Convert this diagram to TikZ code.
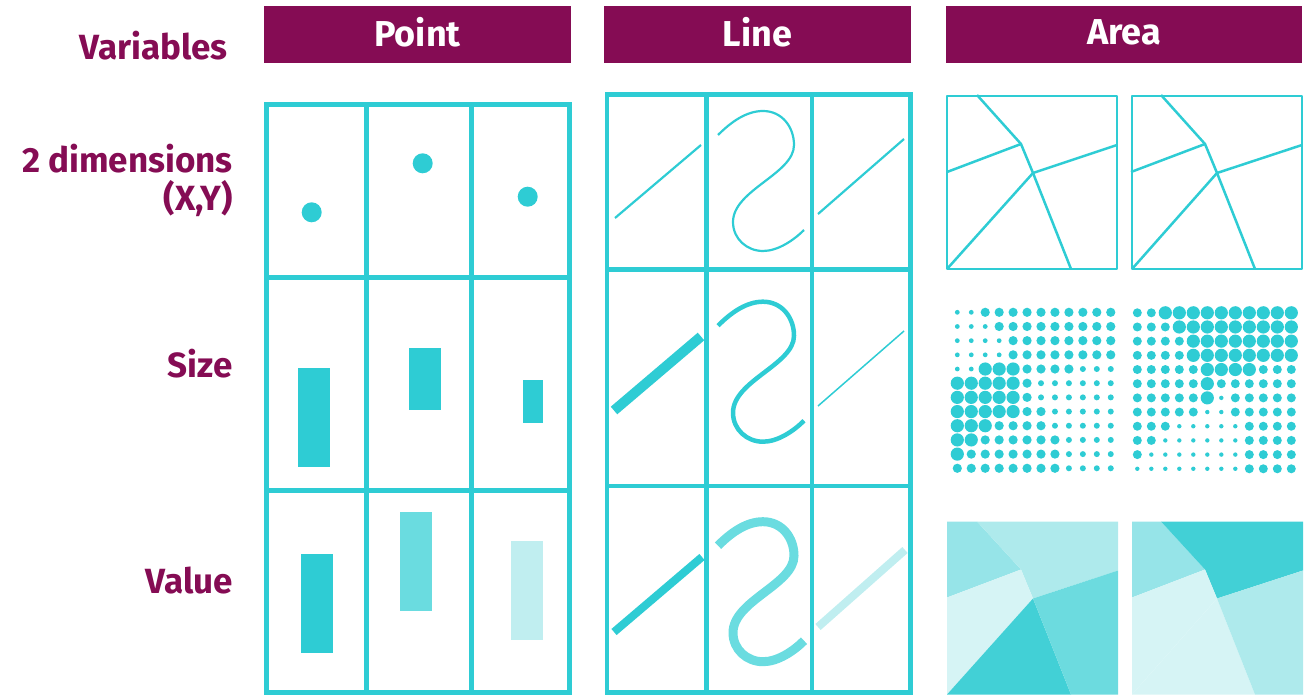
\documentclass[tikz,border=0pt]{standalone}
\usepackage{fontspec}
\setmainfont{Fira Sans}
\definecolor{maroon}{HTML}{850C54}
\definecolor{cy}{HTML}{2ECCD4}
\definecolor{cymid}{HTML}{6ADCE0}
\definecolor{cylight}{HTML}{C0EEF0}
\definecolor{aone}{HTML}{96E4E8}
\definecolor{atwo}{HTML}{AEEAEC}
\definecolor{athree}{HTML}{D6F4F5}
\definecolor{afour}{HTML}{42D0D6}
\definecolor{afive}{HTML}{6CDBDF}
\begin{document}
\begin{tikzpicture}[x=1pt,y=-1pt,
  hdr/.style={fill=maroon,text=white,font=\fontsize{36}{42}\selectfont\bfseries,minimum height=57pt,inner sep=0pt,text depth=5pt},
  lbl/.style={text=maroon,font=\fontsize{35}{42}\selectfont\bfseries,inner sep=0pt,anchor=base east},
  pgrid/.style={draw=cy,line width=5pt},
  lgrid/.style={draw=cy,line width=4.5pt},
  mapline/.style={draw=cy,line width=2.5pt,line join=round},
  sline/.style={draw=cy,line cap=butt}]
\useasboundingbox (0,0) rectangle (1308,695);

% labels
\node[lbl] (lvar) at (228,60) {Variables};
\node[lbl] (ldim) at (233,173) {2 dimensions};
\node[lbl] (lxy) at (233,210) {(X,Y)};
\node[lbl] (lsize) at (233,377) {Size};
\node[lbl] (lval) at (233,593) {Value};

% headers
\node[hdr,minimum width=307pt] (hpoint) at (417.5,34.5) {Point};
\node[hdr,minimum width=307pt] (hline) at (757.5,34.5) {Line};
\node[hdr,minimum width=356pt] (harea) at (1124,34.5) {Area};

% ---------- Point grid
\draw[pgrid] (266,105) rectangle (569.5,692.5);
\draw[pgrid] (366,105) -- (366,692.5) (471,105) -- (471,692.5)
             (266,277.5) -- (569.5,277.5) (266,490) -- (569.5,490);
\fill[cy] (311.7,212.3) circle[radius=10];
\fill[cy] (422.7,163.3) circle[radius=10];
\fill[cy] (527.7,196.7) circle[radius=10];
\fill[cy] (298,368) rectangle (330,467);
\fill[cy] (409,348) rectangle (441,410);
\fill[cy] (523,380) rectangle (543,423);
\fill[cy] (301,554) rectangle (333,653);
\fill[cymid] (400,512) rectangle (432,611);
\fill[cylight] (511,541) rectangle (543,640);

% ---------- Line grid
\draw[lgrid] (607,94.5) rectangle (910.5,692.5);
\draw[lgrid] (706.3,94.5) -- (706.3,692.5) (812,94.5) -- (812,692.5)
             (607,269.5) -- (910.5,269.5) (607,486) -- (910.5,486);
\def\spath{(718,135) .. controls (732,121) and (747,111) .. (763,111)
  .. controls (782,111) and (794,127) .. (794,145)
  .. controls (794,174) and (733,190) .. (733,222)
  .. controls (733,239) and (747,251) .. (763,251)
  .. controls (778,251) and (794,240) .. (804,230)}
% row 1
\draw[sline,line width=2.2pt] (615,218) -- (701,145);
\draw[sline,line width=2.2pt] \spath;
\draw[sline,line width=2.2pt] (818,214) -- (904,139);
% row 2
\draw[sline,line width=10pt] (614,410.5) -- (701,336.5);
\begin{scope}[yshift=-190.7pt]
\draw[sline,line width=4.5pt] \spath;
\end{scope}
\draw[sline,line width=1.5pt] (818,406) -- (904,331);
% row 3
\draw[sline,line width=8pt] (614,632) -- (702,557);
\begin{scope}[yshift=-410.7pt]
\draw[sline,draw=cymid,line width=9pt] \spath;
\end{scope}
\draw[sline,draw=cylight,line width=8pt] (818,627) -- (905,550);

% ---------- Area maps (top)
\begin{scope}[shift={(947,96)}]
\draw[mapline] (0,0) rectangle (170,173);
\draw[mapline] (30,-1) -- (74,48) -- (86,77) -- (124,173);
\draw[mapline] (0,76) -- (74,48);
\draw[mapline] (86,77) -- (170,49);
\draw[mapline] (86,77) -- (0,173);
\end{scope}
\begin{scope}[shift={(1132,96)}]
\draw[mapline] (0,0) rectangle (170,173);
\draw[mapline] (29,-1) -- (73,48) -- (85,77) -- (123,173);
\draw[mapline] (-1,76) -- (73,48);
\draw[mapline] (85,77) -- (170,49);
\draw[mapline] (85,77) -- (0,173);
\end{scope}

% ---------- Dot grids
\foreach \row [count=\r] in {
  {1,1,3,3,3,3,3,3,3,3,3,3},
  {1,1,1,3,3,3,3,3,3,3,3,3},
  {1,1,1,1,3,3,3,3,3,3,3,3},
  {1,1,1,1,3,3,3,3,3,3,3,3},
  {1,1,4,4,4,3,3,3,3,2,2,2},
  {4,4,4,4,4,3,2,2,2,2,2,2},
  {4,4,4,4,4,3,2,2,2,2,2,2},
  {4,4,4,4,4,3,3,2,2,2,2,2},
  {4,4,4,3,3,3,3,2,2,2,2,2},
  {4,4,3,3,3,3,3,3,2,2,2,2},
  {4,3,3,3,3,3,3,3,2,2,2,2},
  {3,3,3,3,3,3,3,3,2,2,2,2}}{
  \foreach \lv [count=\c] in \row {
    \pgfmathsetmacro\rad{{0,2.4,3.0,4.6,6.6}[\lv]}
    \fill[cy] (957.3+13.95*\c-13.95, 312.3+14.18*\r-14.18) circle[radius=\rad];
  }
}
\foreach \row [count=\r] in {
  {3,3,4,4,4,4,4,4,4,4,4,4},
  {3,3,3,4,4,4,4,4,4,4,4,4},
  {3,3,3,3,4,4,4,4,4,4,4,4},
  {3,3,3,3,4,4,4,4,4,4,4,4},
  {3,3,3,3,3,4,4,4,4,3,3,3},
  {3,3,3,3,3,4,3,3,3,3,3,3},
  {3,3,3,3,3,4,1,3,3,3,3,3},
  {3,3,3,3,3,1,1,3,3,3,3,3},
  {3,3,3,1,1,1,1,1,3,3,3,3},
  {3,3,1,1,1,1,1,1,3,3,3,3},
  {3,1,1,1,1,1,1,1,3,3,3,3},
  {1,1,1,1,1,1,1,1,3,3,3,3}}{
  \foreach \lv [count=\c] in \row {
    \pgfmathsetmacro\rad{{0,2.2,3.0,4.5,6.6}[\lv]}
    \fill[cy] (1137.3+14*\c-14, 312.8+14.18*\r-14.18) circle[radius=\rad];
  }
}

% ---------- Value maps
\begin{scope}[shift={(947,521.5)}]
\fill[aone] (0,0) -- (30,0) -- (74,48) -- (0,76) -- cycle;
\fill[atwo] (30,0) -- (171,0) -- (171,49) -- (86,77) -- (74,48) -- cycle;
\fill[athree] (0,76) -- (74,48) -- (86,77) -- (0,173) -- cycle;
\fill[afour] (0,173) -- (86,77) -- (124,173) -- cycle;
\fill[afive] (86,77) -- (171,49) -- (171,173) -- (124,173) -- cycle;
\end{scope}
\begin{scope}[shift={(1132,521.5)}]
\fill[aone] (0,0) -- (29,0) -- (73,48) -- (0,76) -- cycle;
\fill[afour] (29,0) -- (171,0) -- (171,49) -- (85,77) -- (73,48) -- cycle;
\fill[athree] (0,76) -- (73,48) -- (85,77) -- (0,173) -- cycle;
\fill[athree] (0,173) -- (85,77) -- (123,173) -- cycle;
\fill[atwo] (85,77) -- (171,49) -- (171,173) -- (123,173) -- cycle;
\end{scope}
\end{tikzpicture}
\end{document}
